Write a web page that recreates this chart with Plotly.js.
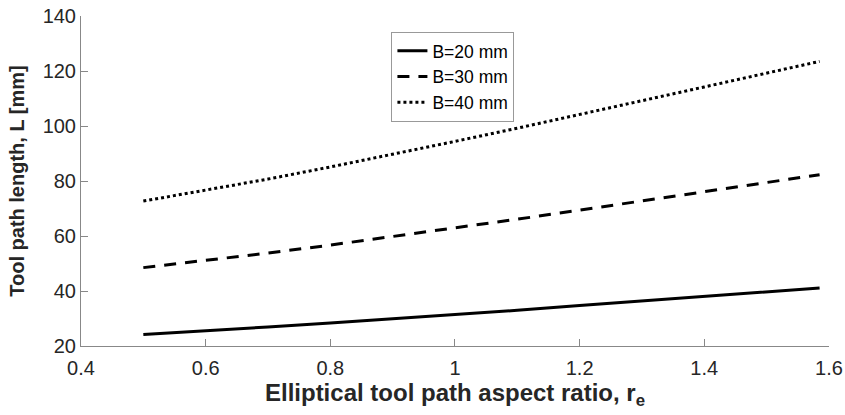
<!DOCTYPE html>
<html>
<head>
<meta charset="utf-8">
<script src="https://cdn.plot.ly/plotly-3.0.1.min.js"></script>
<style>html,body{margin:0;padding:0;background:#fff;}#chart{width:845px;height:415px;}</style>
</head>
<body>
<div id="chart"></div>
<script>
const aspectRatio = [0.5, 0.6, 0.7, 0.8, 0.9, 1.0, 1.1, 1.2, 1.3, 1.4, 1.5, 1.585];
const lenB20 = [24.2, 25.5, 26.9, 28.4, 29.9, 31.4, 33.0, 34.7, 36.4, 38.0, 39.7, 41.1];
const lenB30 = [48.5, 51.1, 53.8, 56.7, 59.8, 62.9, 66.1, 69.4, 72.8, 76.1, 79.5, 82.3];
const lenB40 = [72.7, 76.6, 80.7, 85.1, 89.7, 94.4, 99.2, 104.1, 109.2, 114.2, 119.2, 123.5];
const seriesNames = ["B=20 mm", "B=30 mm", "B=40 mm"];
const xTicks = [0.4, 0.6, 0.8, 1, 1.2, 1.4, 1.6];
const yTicks = [20, 40, 60, 80, 100, 120, 140];

const font = "Liberation Sans, Arial, Helvetica, sans-serif";
const traces = [
  {x: aspectRatio, y: lenB20, name: seriesNames[0], mode: "lines", line: {color: "#000", width: 3, dash: "solid"}},
  {x: aspectRatio, y: lenB30, name: seriesNames[1], mode: "lines", line: {color: "#000", width: 3, dash: "12px,9px"}},
  {x: aspectRatio, y: lenB40, name: seriesNames[2], mode: "lines", line: {color: "#000", width: 3, dash: "dot"}}
];
const layout = {
  width: 845, height: 415,
  margin: {l: 81, r: 16, t: 16, b: 69},
  paper_bgcolor: "#fff", plot_bgcolor: "#fff",
  font: {family: font, color: "#262626", size: 20},
  showlegend: true,
  legend: {x: 0.415, y: 0.952, xanchor: "left", yanchor: "top",
    bordercolor: "#999", borderwidth: 1, bgcolor: "#fff",
    font: {family: font, size: 17.5, color: "#000"}, tracegroupgap: 0, itemwidth: 30},
  xaxis: {
    range: [0.4, 1.6001], tickvals: xTicks, ticktext: xTicks.map(String),
    showgrid: false, zeroline: false, showline: true, linecolor: "#888", linewidth: 1,
    ticks: "inside", ticklen: 7, tickcolor: "#888", mirror: false,
    ticklabelstandoff: 4,
    tickfont: {family: font, size: 20, color: "#262626"},
    title: {text: "Elliptical tool path aspect ratio, r<sub>e</sub>", font: {family: font, size: 24, color: "#262626", weight: "bold"}, standoff: 6}
  },
  yaxis: {
    range: [20, 140.0001], tickvals: yTicks, ticktext: yTicks.map(String),
    showgrid: false, zeroline: false, showline: true, linecolor: "#888", linewidth: 1,
    ticks: "inside", ticklen: 7, tickcolor: "#888", mirror: false,
    tickfont: {family: font, size: 20, color: "#262626"},
    title: {text: "Tool path length, L [mm]", font: {family: font, size: 20, color: "#262626", weight: "bold"}, standoff: 12}
  }
};
Plotly.newPlot("chart", traces, layout, {displayModeBar: false, staticPlot: true});
</script>
</body>
</html>
